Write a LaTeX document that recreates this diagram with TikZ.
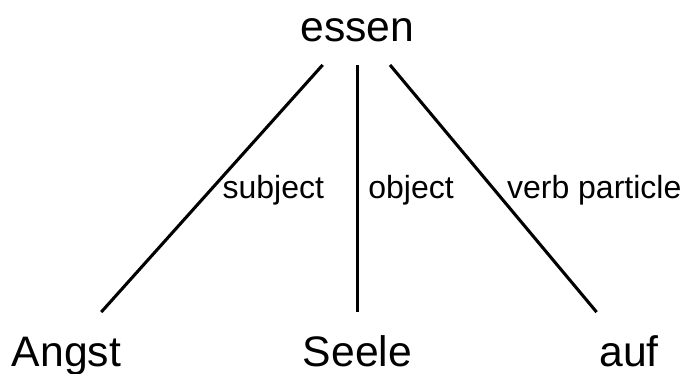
\documentclass[tikz,border=0pt]{standalone}
\usepackage{fontspec}
\setmainfont{Liberation Sans}
\usepackage{tikz}
\usetikzlibrary{positioning}

\begin{document}
\begin{tikzpicture}[x=0.75pt, y=0.75pt]
    \tikzstyle{word} = [font=\fontsize{32}{38}\selectfont, inner sep=0pt,
        text height=41pt, text depth=17pt, minimum width=80pt, anchor=base]
    \tikzstyle{dep} = [line width=2.3pt]
    \tikzstyle{rel} = [font=\fontsize{24}{29}\selectfont, inner sep=0pt,
        anchor=base west, pos=0.54]
    \useasboundingbox (0,0) rectangle (688,374);
    \node (essen) [word] at (357.5,332) {essen};
    \node (angst) [word] at (66.5,7) {Angst};
    \node (seele) [word] at (357.5,7) {Seele};
    \node (auf) [word] at (629,7) {auf};
    \draw [dep] (essen) -- node[rel, xshift=13.5pt] {subject} (angst);
    \draw [dep] (essen) -- node[rel, xshift=7pt] {object} (seele);
    \draw [dep] (essen) -- node[rel, xshift=3pt] {verb particle} (auf);
\end{tikzpicture}
\end{document}
